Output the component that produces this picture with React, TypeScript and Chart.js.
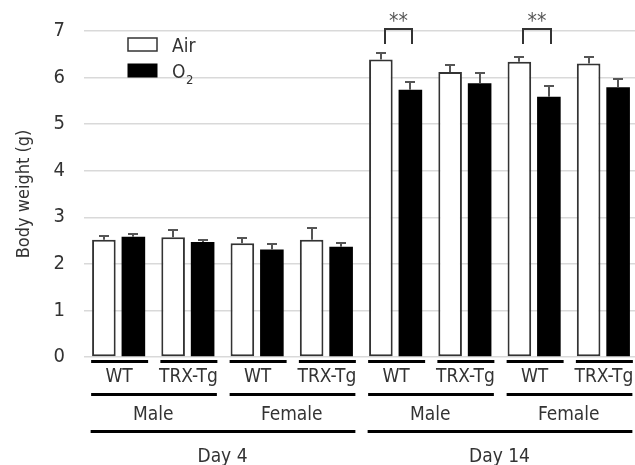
import React, { useEffect, useRef } from "react";
import { Chart, registerables } from "chart.js";

Chart.register(...registerables);

const genotypes = ["WT", "TRX-Tg", "WT", "TRX-Tg", "WT", "TRX-Tg", "WT", "TRX-Tg"];
const sexLabels = ["Male", "Female", "Male", "Female"];
const dayLabels = ["Day 4", "Day 14"];
const seriesLabels = ["Air", "O"];
const airValues = [2.52, 2.57, 2.44, 2.52, 6.39, 6.12, 6.34, 6.3];
const airErrors = [0.08, 0.15, 0.11, 0.24, 0.13, 0.14, 0.11, 0.15];
const o2Values = [2.58, 2.47, 2.31, 2.37, 5.74, 5.88, 5.59, 5.79];
const o2Errors = [0.07, 0.05, 0.12, 0.07, 0.16, 0.21, 0.23, 0.17];
const yTicks = [0, 1, 2, 3, 4, 5, 6, 7];
const significantCategories = [4, 6];
const significanceLabel = "**";

const FONT = '"DejaVu Sans Condensed", "DejaVu Sans", sans-serif';
const TEXT = "#333333";

const overlayPlugin = {
  id: "overlay",
  afterDatasetsDraw(chart: any) {
    const ctx = chart.ctx as CanvasRenderingContext2D;
    const ys = chart.scales.y;
    const xs = chart.scales.x;
    const area = chart.chartArea;
    const bottom = area.bottom;
    ctx.save();

    // error bars
    const series: [number[], number[]][] = [
      [airValues, airErrors],
      [o2Values, o2Errors],
    ];
    series.forEach(([vals, errs], di) => {
      const meta = chart.getDatasetMeta(di);
      meta.data.forEach((bar: any, i: number) => {
        const bx = Math.round(bar.x);
        const top = ys.getPixelForValue(vals[i]);
        const et = Math.round(ys.getPixelForValue(vals[i] + errs[i]));
        ctx.strokeStyle = "#555";
        ctx.lineWidth = 2;
        ctx.beginPath();
        ctx.moveTo(bx, top);
        ctx.lineTo(bx, et);
        ctx.moveTo(bx - 5, et);
        ctx.lineTo(bx + 5, et);
        ctx.stroke();
      });
    });

    // significance brackets
    significantCategories.forEach((ci) => {
      const a = Math.round(chart.getDatasetMeta(0).data[ci].x + 4);
      const b = Math.round(chart.getDatasetMeta(1).data[ci].x + 2);
      const t = Math.round(ys.getPixelForValue(7.05));
      const bt = ys.getPixelForValue(6.72);
      ctx.strokeStyle = "#333";
      ctx.lineWidth = 2;
      ctx.beginPath();
      ctx.moveTo(a, bt);
      ctx.lineTo(a, t);
      ctx.lineTo(b, t);
      ctx.lineTo(b, bt);
      ctx.stroke();
      ctx.fillStyle = "#555";
      ctx.font = `21px ${FONT}`;
      ctx.textAlign = "center";
      ctx.textBaseline = "alphabetic";
      ctx.fillText(significanceLabel, (a + b) / 2, t - 1);
    });

    // legend
    ctx.fillStyle = "#fff";
    ctx.fillRect(128, 38, 29, 13);
    ctx.strokeStyle = "#333";
    ctx.lineWidth = 1.5;
    ctx.strokeRect(128, 38, 29, 13);
    ctx.fillStyle = "#000";
    ctx.fillRect(127.5, 63.5, 30, 14);
    ctx.fillStyle = TEXT;
    ctx.textAlign = "left";
    ctx.textBaseline = "alphabetic";
    ctx.font = `19px ${FONT}`;
    ctx.fillText(seriesLabels[0], 172, 51.5);
    ctx.fillText(seriesLabels[1], 172, 78);
    const ow = ctx.measureText(seriesLabels[1]).width;
    ctx.font = `13px ${FONT}`;
    ctx.fillText("2", 172 + ow + 0.5, 84);

    // hierarchical x axis
    const c = (i: number) => xs.getPixelForValue(i);
    ctx.strokeStyle = "#000";
    ctx.lineWidth = 3;
    ctx.fillStyle = TEXT;
    ctx.textAlign = "center";
    ctx.font = `19px ${FONT}`;
    genotypes.forEach((g, i) => {
      const cx = c(i);
      ctx.beginPath();
      ctx.moveTo(cx - 27.5, bottom + 4.5);
      ctx.lineTo(cx + 29.5, bottom + 4.5);
      ctx.stroke();
      ctx.fillText(g, cx + 0.5, bottom + 24.5);
    });
    sexLabels.forEach((s, k) => {
      const c0 = c(k * 2);
      const c1 = c(k * 2 + 1);
      ctx.beginPath();
      ctx.moveTo(c0 - 27.5, bottom + 37.5);
      ctx.lineTo(c1 + 29, bottom + 37.5);
      ctx.stroke();
      ctx.fillText(s, (c0 + c1) / 2, bottom + 63);
    });
    dayLabels.forEach((d, k) => {
      const c0 = c(k * 4);
      const c1 = c(k * 4 + 3);
      ctx.beginPath();
      ctx.moveTo(c0 - 28, bottom + 74.5);
      ctx.lineTo(c1 + 29, bottom + 74.5);
      ctx.stroke();
      ctx.fillText(d, (c0 + c1) / 2, bottom + 105);
    });
    ctx.restore();
  },
};

export default function App() {
  const ref = useRef<HTMLCanvasElement | null>(null);
  useEffect(() => {
    if (!ref.current) return;
    Chart.defaults.font.family = FONT;
    const chart = new Chart(ref.current, {
      type: "bar",
      data: {
        labels: genotypes,
        datasets: [
          {
            label: "Air",
            data: airValues,
            backgroundColor: "#ffffff",
            borderColor: "#333333",
            borderWidth: 2,
            borderSkipped: false,
            categoryPercentage: 0.852,
            barPercentage: 0.8,
          },
          {
            label: "O2",
            data: o2Values,
            backgroundColor: "#000000",
            borderWidth: 0,
            categoryPercentage: 0.852,
            barPercentage: 0.8,
          },
        ],
      },
      options: {
        responsive: false,
        animation: false,
        layout: { padding: { top: 28, bottom: 108, left: 0, right: 2 } },
        plugins: { legend: { display: false }, tooltip: { enabled: false } },
        scales: {
          x: { display: false },
          y: {
            min: 0,
            max: 7,
            afterFit: (s: any) => {
              s.width = 84;
            },
            afterBuildTicks: (s: any) => {
              s.ticks = yTicks.map((v) => ({ value: v }));
            },
            ticks: { color: TEXT, font: { size: 20, family: FONT }, padding: 19 },
            grid: { color: "#d9d9d9", lineWidth: 1.5, drawTicks: false },
            border: { display: false },
            title: {
              display: true,
              text: "Body weight (g)",
              color: TEXT,
              font: { size: 18, family: FONT },
              padding: { top: 14, bottom: 0 },
            },
          },
        },
      },
      plugins: [overlayPlugin],
    });
    return () => chart.destroy();
  }, []);
  return (
    <div
      style={{
        position: "fixed",
        left: 0,
        top: 0,
        width: 635,
        height: 465,
        overflow: "hidden",
        background: "#fff",
      }}
    >
      <canvas ref={ref} width={640} height={465} style={{ display: "block" }} />
    </div>
  );
}
